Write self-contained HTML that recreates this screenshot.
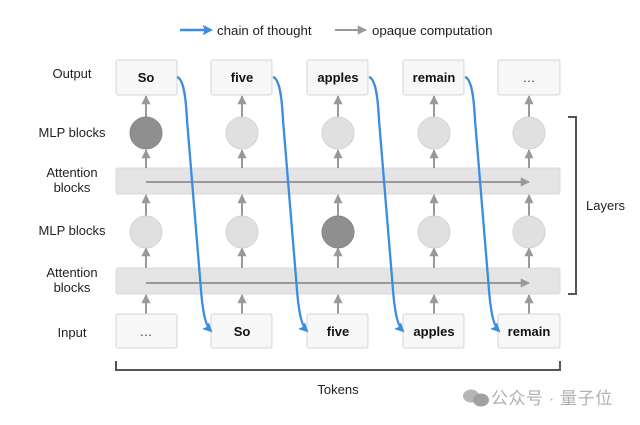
<!DOCTYPE html>
<html><head><meta charset="utf-8"><style>
html,body{margin:0;padding:0;background:#fff;}
svg{display:block;}
text{font-family:"Liberation Sans","Noto Sans CJK SC",sans-serif;}
</style></head><body>
<svg width="640" height="425" viewBox="0 0 640 425" xmlns="http://www.w3.org/2000/svg">
<defs>
<marker id="ga" viewBox="0 0 10 10" refX="9" refY="5" markerWidth="4.6" markerHeight="4.6" orient="auto" markerUnits="strokeWidth">
<path d="M0,0 L10,5 L0,10 z" fill="#999"/>
</marker>
<marker id="ba" viewBox="0 0 10 10" refX="8" refY="5" markerWidth="4.2" markerHeight="4.2" orient="auto" markerUnits="strokeWidth">
<path d="M0,0 L10,5 L0,10 L2,5 z" fill="#3a8de0"/>
</marker>
</defs>
<rect width="640" height="425" fill="#fff"/>

<!-- legend -->
<line x1="180" y1="30" x2="211" y2="30" stroke="#3a8de0" stroke-width="2.5" marker-end="url(#ba)"/>
<text x="217" y="35" font-size="13.3" fill="#222">chain of thought</text>
<line x1="335" y1="30" x2="366" y2="30" stroke="#999" stroke-width="2" marker-end="url(#ga)"/>
<text x="372" y="35" font-size="13.3" fill="#222">opaque computation</text>

<!-- row labels -->
<g font-size="13" fill="#222" text-anchor="middle">
<text x="72" y="78">Output</text>
<text x="72" y="137">MLP blocks</text>
<text x="72" y="177">Attention</text>
<text x="72" y="192">blocks</text>
<text x="72" y="235">MLP blocks</text>
<text x="72" y="277">Attention</text>
<text x="72" y="292">blocks</text>
<text x="72" y="337">Input</text>
</g>

<!-- attention bands -->
<rect x="116" y="168" width="444" height="26" rx="2" fill="#e4e4e4" stroke="#dadada"/>
<rect x="116" y="268" width="444" height="26" rx="2" fill="#e4e4e4" stroke="#dadada"/>
<line x1="146" y1="182" x2="529" y2="182" stroke="#999" stroke-width="2" marker-end="url(#ga)"/>
<line x1="146" y1="283" x2="529" y2="283" stroke="#999" stroke-width="2" marker-end="url(#ga)"/>

<!-- vertical arrows -->
<g stroke="#999" stroke-width="2" marker-end="url(#ga)">
<line x1="146" y1="314" x2="146" y2="295"/><line x1="242" y1="314" x2="242" y2="295"/><line x1="338" y1="314" x2="338" y2="295"/><line x1="434" y1="314" x2="434" y2="295"/><line x1="529" y1="314" x2="529" y2="295"/>
<line x1="146" y1="268" x2="146" y2="248"/><line x1="242" y1="268" x2="242" y2="248"/><line x1="338" y1="268" x2="338" y2="248"/><line x1="434" y1="268" x2="434" y2="248"/><line x1="529" y1="268" x2="529" y2="248"/>
<line x1="146" y1="216" x2="146" y2="195"/><line x1="242" y1="216" x2="242" y2="195"/><line x1="338" y1="216" x2="338" y2="195"/><line x1="434" y1="216" x2="434" y2="195"/><line x1="529" y1="216" x2="529" y2="195"/>
<line x1="146" y1="168" x2="146" y2="150"/><line x1="242" y1="168" x2="242" y2="150"/><line x1="338" y1="168" x2="338" y2="150"/><line x1="434" y1="168" x2="434" y2="150"/><line x1="529" y1="168" x2="529" y2="150"/>
<line x1="146" y1="117" x2="146" y2="96"/><line x1="242" y1="117" x2="242" y2="96"/><line x1="338" y1="117" x2="338" y2="96"/><line x1="434" y1="117" x2="434" y2="96"/><line x1="529" y1="117" x2="529" y2="96"/>
</g>

<!-- MLP circles -->
<g stroke="#d2d2d2" stroke-width="1">
<circle cx="146" cy="133" r="16" fill="#8f8f8f" stroke="#888"/>
<circle cx="242" cy="133" r="16" fill="#e0e0e0"/>
<circle cx="338" cy="133" r="16" fill="#e0e0e0"/>
<circle cx="434" cy="133" r="16" fill="#e0e0e0"/>
<circle cx="529" cy="133" r="16" fill="#e0e0e0"/>
<circle cx="146" cy="232" r="16" fill="#e0e0e0"/>
<circle cx="242" cy="232" r="16" fill="#e0e0e0"/>
<circle cx="338" cy="232" r="16" fill="#8f8f8f" stroke="#888"/>
<circle cx="434" cy="232" r="16" fill="#e0e0e0"/>
<circle cx="529" cy="232" r="16" fill="#e0e0e0"/>
</g>

<!-- boxes -->
<g fill="#f7f7f7" stroke="#d6d6d6">
<rect x="116" y="60" width="61" height="35" rx="2"/>
<rect x="211" y="60" width="61" height="35" rx="2"/>
<rect x="307" y="60" width="61" height="35" rx="2"/>
<rect x="403" y="60" width="61" height="35" rx="2"/>
<rect x="498" y="60" width="62" height="35" rx="2"/>
<rect x="116" y="314" width="61" height="34" rx="2"/>
<rect x="211" y="314" width="61" height="34" rx="2"/>
<rect x="307" y="314" width="61" height="34" rx="2"/>
<rect x="403" y="314" width="61" height="34" rx="2"/>
<rect x="498" y="314" width="62" height="34" rx="2"/>
</g>
<g font-size="13" font-weight="bold" fill="#111" text-anchor="middle">
<text x="146" y="82">So</text>
<text x="242" y="82">five</text>
<text x="338" y="82">apples</text>
<text x="434" y="82">remain</text>
<text x="242" y="336">So</text>
<text x="338" y="336">five</text>
<text x="434" y="336">apples</text>
<text x="529" y="336">remain</text>
</g>
<g font-size="13" fill="#333" text-anchor="middle">
<text x="529" y="82">…</text>
<text x="146" y="336">…</text>
</g>

<!-- chain of thought curves -->
<g fill="none" stroke="#3a8de0" stroke-width="2.3" marker-end="url(#ba)">
<path d="M177,77 C184,79 186,100 187,120 L201,290 C203,315 206,326 211,331"/>
<path d="M273,77 C280,79 282,100 283,120 L297,290 C299,315 302,326 307,331"/>
<path d="M369,77 C376,79 378,100 379,120 L393,290 C395,315 398,326 403,331"/>
<path d="M465,77 C472,79 474,100 475,120 L489,290 C491,315 494,326 499,331"/>
</g>

<!-- layers bracket -->
<path d="M568,117 L576,117 L576,294 L568,294" fill="none" stroke="#555" stroke-width="2"/>
<text x="586" y="210" font-size="13" fill="#222">Layers</text>

<!-- tokens bracket -->
<path d="M116,361 L116,370 L560,370 L560,361" fill="none" stroke="#555" stroke-width="2"/>
<text x="338" y="394" font-size="13" fill="#222" text-anchor="middle">Tokens</text>

<!-- watermark -->
<g fill="#b5b5b5">
<ellipse cx="471" cy="396" rx="8" ry="6.5"/>
<ellipse cx="481" cy="400" rx="8" ry="6.5" fill="#a0a0a0"/>
</g>
<text x="491" y="404" font-size="17" letter-spacing="0.5" fill="#b0b0b0" font-family="'Noto Sans CJK SC',sans-serif">公众号 · 量子位</text>
</svg>
</body></html>
